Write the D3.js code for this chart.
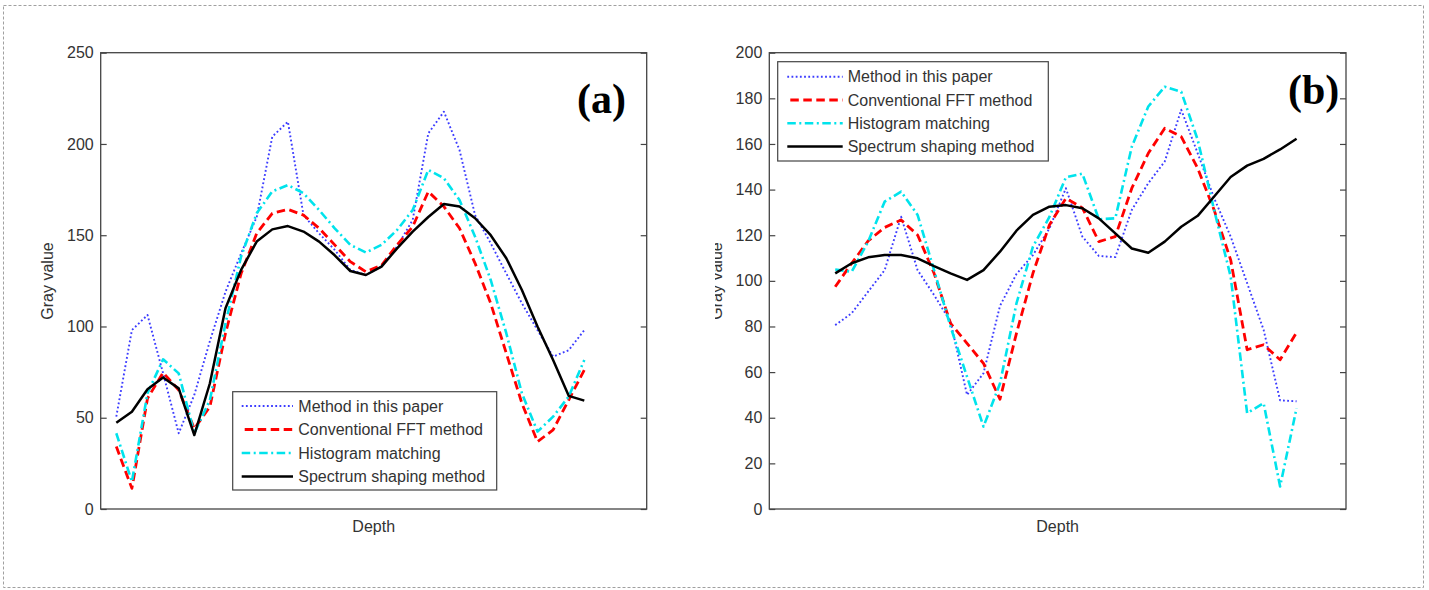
<!DOCTYPE html>
<html><head><meta charset="utf-8">
<script src="https://cdn.jsdelivr.net/npm/d3@7"></script>
<style>body{margin:0;background:#fff}</style>
</head><body>
<svg id="c" width="1429" height="590"></svg>
<script>
// ---------------- data ----------------
const seriesNames = ["Method in this paper", "Conventional FFT method", "Histogram matching", "Spectrum shaping method"];
const xLabel = "Depth";
const yLabel = "Gray value";

// panel (a)
const depthA = [1,2,3,4,5,6,7,8,9,10,11,12,13,14,15,16,17,18,19,20,21,22,23,24,25,26,27,28,29,30,31];
const methodA   = [50.6,98,106.3,74.3,41.5,62.5,92,119,140,160,204,212.2,161,151,142,131,128.2,132.8,143.8,158.4,205.8,217.7,196.7,161,145.6,129,112.7,98,83.5,87,98];
const fftA      = [34.2,11.3,60.6,74.7,65.2,44,56,96.3,129,151,162,164.2,161,153.8,144.7,135.5,130,133.5,144.7,154.7,173.9,165.7,153.8,134.6,112.7,85.3,57.9,36.9,43.3,59.7,76.2];
const histA     = [41.5,15,63.4,82,74.3,41.5,59.7,101.7,138.3,162,174,177.5,173,163.8,153.8,144.7,140.5,144.7,152.9,163.8,185.8,181.2,169.3,149.2,125.5,96.3,63.4,42.4,50.6,61.6,81.6];
const spectrumA = [47.3,53.3,65.6,72.1,66.1,40.5,68.9,110,131,146.5,153.2,155,152,146.5,139,130.4,128.2,132.8,142.8,152,160,167.1,165.7,159.3,150,137.4,120,100,81.6,62,59.4];
const yTicksA = [0,50,100,150,200,250];

// panel (b)
const depthB = [4,5,6,7,8,9,10,11,12,13,14,15,16,17,18,19,20,21,22,23,24,25,26,27,28,29,30,31,32];
const methodB   = [80.6,85.8,95.3,104.7,128.1,104.7,93.8,82.1,50,59.5,89,103,111.3,123,140.6,119.4,110.9,110.4,131.1,142.8,152.3,175,155.9,136.2,119.4,99,78.5,47.6,47.2];
const fftB      = [97.4,107.7,117.5,123.4,126.7,120.1,103.3,81.4,72.6,63.8,48.1,77,103.3,124.5,136.2,132,117.2,119.4,140.6,155.9,166.9,163.2,149.3,131,109.2,69.8,72,65.4,77.4];
const histB     = [105,104,117.2,134.7,139.1,128.9,104.7,79.9,58,36.1,55,90.1,115,128,145.4,147,127,127.4,158.8,176.4,185.1,182.9,161.8,131,101.9,42,46.4,9.9,44.2];
const spectrumB = [103.3,107.7,110.3,111.3,111.3,109.9,106.5,103.3,100.4,104.7,112.8,122,128.9,132.5,133.2,131.8,127.4,120.8,114.2,112.3,117.2,123.7,128.5,137,145.5,150.5,153.5,157.6,162.3];
const yTicksB = [0,20,40,60,80,100,120,140,160,180,200];

// ---------------- styles ----------------
const styles = [
  {color:"#3c3cff", width:1.9, dash:"1.8,2.4"},
  {color:"#ff0000", width:2.8, dash:"8.5,4.5"},
  {color:"#00e3ec", width:2.6, dash:"8.5,3.5,2,3.5"},
  {color:"#000000", width:2.5, dash:null}
];
const FONT = "'Liberation Sans', Arial, sans-serif";
const TXT = "#333";

const svg = d3.select("#c");

// outer dashed frame
svg.append("rect").attr("x",3.5).attr("y",5.5).attr("width",1420).attr("height",582)
  .attr("fill","none").attr("stroke","#a0a0a0").attr("stroke-width",1).attr("stroke-dasharray","3,2");

svg.append("defs").append("clipPath").attr("id","clipB")
  .append("rect").attr("x",715).attr("y",0).attr("width",714).attr("height",590);

function panel(cfg) {
  const g = svg.append("g");
  if (cfg.clip) g.attr("clip-path", "url(#" + cfg.clip + ")");
  const x = d3.scaleLinear().domain([0,35]).range([cfg.left, cfg.right]);
  const y = d3.scaleLinear().domain([0, cfg.ymax]).range([cfg.bottom, cfg.top]);

  // left axis with inward ticks
  const ax = g.append("g").attr("transform", `translate(${cfg.left},0)`)
    .call(d3.axisLeft(y).tickValues(cfg.ticks).tickSize(-6).tickSizeOuter(0).tickPadding(7));
  ax.select(".domain").remove();
  ax.selectAll("line").attr("stroke","#444").attr("stroke-width",1.2);
  ax.selectAll("text").attr("font-family",FONT).attr("font-size",16).attr("fill",TXT);

  const ar = g.append("g").attr("transform", `translate(${cfg.right},0)`)
    .call(d3.axisRight(y).tickValues(cfg.ticks).tickSize(-6).tickSizeOuter(0).tickFormat(""));
  ar.select(".domain").remove();
  ar.selectAll("line").attr("stroke","#444").attr("stroke-width",1.2);

  const ab = g.append("g").attr("transform", `translate(0,${cfg.bottom})`)
    .call(d3.axisBottom(x).tickValues([]).tickSizeOuter(0));
  ab.select(".domain").remove();

  // box
  g.append("rect").attr("x",cfg.left).attr("y",cfg.top)
    .attr("width",cfg.right-cfg.left).attr("height",cfg.bottom-cfg.top)
    .attr("fill","none").attr("stroke","#444").attr("stroke-width",1.3);

  // series
  const line = d3.line().x((d,i)=>x(cfg.depth[i])).y(d=>y(d));
  cfg.series.forEach((s,k)=>{
    const p = g.append("path").datum(s).attr("d", line)
      .attr("fill","none").attr("stroke",styles[k].color).attr("stroke-width",styles[k].width)
      .attr("stroke-linejoin","round");
    if (styles[k].dash) p.attr("stroke-dasharray", styles[k].dash);
  });

  // labels
  g.append("text").attr("x",(cfg.left+cfg.right)/2).attr("y",532)
    .attr("text-anchor","middle").attr("font-family",FONT).attr("font-size",16).attr("fill",TXT).text(xLabel);
  g.append("text").attr("transform",`translate(${cfg.left-47.7},281) rotate(-90)`)
    .attr("text-anchor","middle").attr("font-family",FONT).attr("font-size",16).attr("fill",TXT).text(yLabel);

  g.append("text").attr("x",cfg.tagX).attr("y",cfg.tagY)
    .attr("font-family","'Liberation Serif','Times New Roman',serif").attr("font-weight","bold")
    .attr("font-size",42).attr("fill","#000").text(cfg.tag);

  // legend
  const L = cfg.legend;
  g.append("rect").attr("x",L.x).attr("y",L.y).attr("width",L.w).attr("height",L.h)
    .attr("fill","#fff").attr("stroke","#444").attr("stroke-width",1.2);
  seriesNames.forEach((n,k)=>{
    const yy = L.row0 + k*L.dy;
    const ln = g.append("line").attr("x1",L.s0 + (k===1?3:0)).attr("x2",L.s1).attr("y1",yy).attr("y2",yy)
      .attr("stroke",styles[k].color).attr("stroke-width",styles[k].width);
    if (styles[k].dash) ln.attr("stroke-dasharray", styles[k].dash);
    g.append("text").attr("x",L.tx).attr("y",yy).attr("dy","0.35em")
      .attr("font-family",FONT).attr("font-size",16).attr("fill",TXT).text(n);
  });
}

panel({left:100.7, right:646.7, top:52.7, bottom:509, ymax:250, ticks:yTicksA,
  depth:depthA, series:[methodA,fftA,histA,spectrumA], tag:"(a)", tagX:577, tagY:113,
  legend:{x:232.7, y:391.7, w:264, h:98.3, s0:241.7, s1:293, tx:298.3, row0:406, dy:23.5}});

panel({left:769.3, right:1346, top:52.7, bottom:509, ymax:200, ticks:yTicksB,
  depth:depthB, series:[methodB,fftB,histB,spectrumB], tag:"(b)", tagX:1288, tagY:104, clip:"clipB",
  legend:{x:777.7, y:61.7, w:270.6, h:99.3, s0:787.3, s1:842.7, tx:847.7, row0:76.7, dy:23.3}});
</script>
</body></html>
